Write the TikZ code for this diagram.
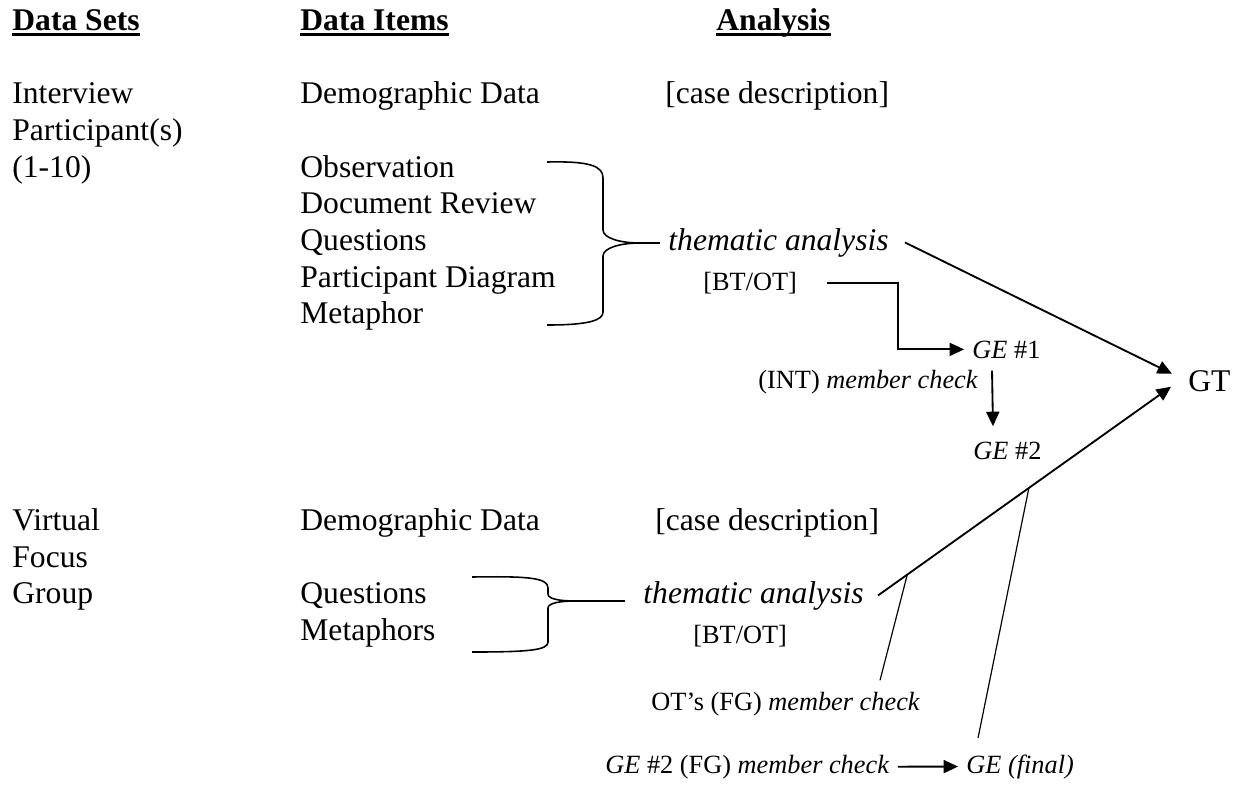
\documentclass[tikz,border=0pt]{standalone}
\usepackage{fontspec}
\setmainfont{Liberation Serif}
\usetikzlibrary{calc,arrows.meta}

\newcommand{\hd}[1]{\sbox0{\bfseries #1}\rlap{\rule[-2.1pt]{\wd0}{1.1pt}}\usebox0}

\begin{document}
\begin{tikzpicture}[x=0.38pt, y=-0.38pt,
  txt/.style={anchor=base west, inner sep=3pt, font=\fontsize{12}{14}\selectfont},
  sm/.style={txt, font=\fontsize{10}{12}\selectfont},
  arr/.style={line width=0.7pt, -{Triangle[length=5.5pt,width=5pt]}},
  brace/.style={line width=0.6pt},
  thin/.style={line width=0.45pt}]
\useasboundingbox (0,0) rectangle (1235,787);
%\draw (0,0) rectangle (1235,787);


\coordinate (sets) at (4,30);
\coordinate (items) at (292,30);
\coordinate (anal) at (708,30);
\coordinate (int) at ($(sets) + (0,73)$);
\coordinate (obs) at ($(items) + (0,147)$);
\coordinate (vfg) at ($(sets) + (0,500)$);
\coordinate (fgq) at ($(items) + (0,573)$);

\coordinate (b1t) at (547,162);
\coordinate (b1tip) at (640,243);
\coordinate (b1b) at (547,325);
\coordinate (b2t) at (472,577);
\coordinate (b2tip) at (575,601);
\coordinate (b2b) at (472,652);
\coordinate (bend) at (898,0);


% headings
\node (hsets) [txt] at (sets) {\hd{Data Sets}};
\node (hitems) [txt] at (items) {\hd{Data Items}};
\node (hanal) [txt] at (anal) {\hd{Analysis}};

% interview participants
\node (iv1) [txt] at (int) {Interview};
\node (iv2) [txt] at ($(int) + (0,37)$) {Participant(s)};
\node (iv3) [txt] at ($(int) + (0,74)$) {(1-10)};

\node (dem1) [txt] at ($(items) + (0,73)$) {Demographic Data};
\node (obsv) [txt] at (obs) {Observation};
\node (doc) [txt] at ($(obs) + (0,36.7)$) {Document Review};
\node (q1) [txt] at ($(obs) + (0,73.4)$) {Questions};
\node (pd) [txt] at ($(obs) + (0,110)$) {Participant Diagram};
\node (met) [txt] at ($(obs) + (0,146.8)$) {Metaphor};

\node (case1) [txt] at (657,103) {[case description]};
\node (ta1) [txt] at (660,250) {\textit{thematic analysis}};
\node (bt1) [sm] at (695,290) {[BT/OT]};
\node (ge1) [sm] at (964,358) {\textit{GE} \#1};
\node (intc) [sm] at (750,388) {(INT) \textit{member check}};
\node (ge2) [sm] at (965,459) {\textit{GE} \#2};
\node (gt) [txt] at (1180,391) {GT};

% virtual focus group
\node (vf1) [txt] at (vfg) {Virtual};
\node (vf2) [txt] at ($(vfg) + (0,37)$) {Focus};
\node (vf3) [txt] at ($(vfg) + (0,73)$) {Group};

\node (dem2) [txt] at ($(items) + (0,500)$) {Demographic Data};
\node (q2) [txt] at (fgq) {Questions};
\node (mets) [txt] at ($(fgq) + (0,37)$) {Metaphors};

\node (case2) [txt] at (647,530) {[case description]};
\node (ta2) [txt] at (635,603) {\textit{thematic analysis}};
\node (bt2) [sm] at (685,643) {[BT/OT]};
\node (otc) [sm] at (643,710) {OT’s (FG) \textit{member check}};
\node (ge2fg) [sm] at (597,773) {\textit{GE} \#2 (FG) \textit{member check}};
\node (gef) [sm] at (958,773) {\textit{GE (final)}};


\draw [brace] (b1t) .. controls (590,161) and (603,166) .. (603,178) -- (603,230)
   .. controls (603,238) and (620,243) .. (b1tip)
   .. controls (620,243) and (603,248) .. (603,256) -- (603,312)
   .. controls (603,320) and (590,325) .. (b1b);
\draw [brace] (b1tip) -- (b1tip -| ta1.west);

\draw [brace] (b2t) .. controls (530,576) and (548,578) .. (548,588) -- (548,594)
   .. controls (548,599) and (560,601) .. (b2tip)
   .. controls (560,601) and (548,603) .. (548,608) -- (548,642)
   .. controls (548,650) and (530,652) .. (b2b);
\draw [brace] (b2tip) -- ($(b2tip -| ta2.west) + (-10,0)$);

\draw [arr] ($(bt1.east) + (22,0)$) -| (bend |- ge1.west) -- (ge1.west);
\draw [arr] ($(ge1.south west) + (28,4)$) -- ($(ge2.north west) + (28,-7)$);

\draw [arr] ($(ta1.east) + (8,0)$) -- ($(gt.west) + (-8,-7)$);
\draw [arr] ($(ta2.east) + (6,0)$) -- coordinate[pos=0.1] (ot1) coordinate[pos=0.515] (ge3)
   ($(gt.west) + (-9,6)$);

\draw [thin] ($(otc.north west) + (237,-3)$) -- (ot1);
\draw [thin] ($(gef.north west) + (20,-8)$) -- (ge3);
\draw [arr] (ge2fg.east) -- (gef.west);

\end{tikzpicture}
\end{document}
